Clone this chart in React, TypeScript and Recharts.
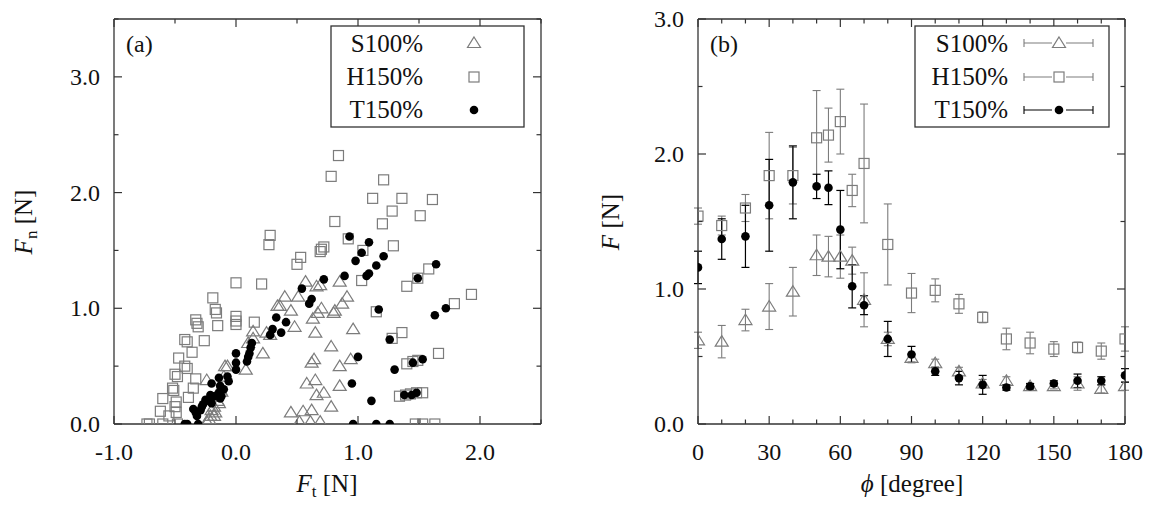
import React from 'react';
import { ScatterChart, Scatter, XAxis, YAxis, ErrorBar } from 'recharts';

const FONT = "'Liberation Serif', 'DejaVu Serif', serif";
const GRAY = '#7c7c7c';
const BLACK = '#000000';
const FRAME = '#333333';

// panel (a): [Ft, Fn] pairs
const s100Pairs: [number, number][] = [
  [0.57, 1.23], [0.66, 1.19], [0.69, 1.2], [0.85, 1.23], [0.4, 1.1], [0.51, 1.1], [0.91, 1.1],
  [0.36, 1.02], [0.45, 0.98], [0.7, 1.0], [0.87, 1.04], [0.81, 0.98], [0.67, 0.96], [0.63, 0.91],
  [0.48, 0.84], [0.28, 0.77], [0.65, 0.79], [0.96, 0.82], [0.22, 0.61], [0.78, 0.67], [0.64, 0.56],
  [0.62, 0.53], [0.94, 0.56], [0.85, 0.5], [0.58, 0.35], [0.65, 0.38], [0.85, 0.33], [0.66, 0.25],
  [0.72, 0.27], [0.45, 0.1], [0.55, 0.11], [0.62, 0.12], [0.78, 0.15], [0.52, 0.02], [0.61, 0.02],
  [0.69, 0.02], [0.8, 0.96], [0.14, 0.8], [0.14, 0.74], [0.1, 0.7], [0.34, 1.02], [0.25, 0.79],
  [0.08, 0.47], [-0.09, 0.5], [-0.07, 0.5], [-0.24, 0.38], [-0.1, 0.41], [-0.16, 0.24], [-0.18, 0.15],
  [-0.21, 0.07], [-0.24, 0.02], [-0.2, 0.12], [-0.18, 0.07], [-0.22, 0.04], [-0.13, 0.3], [-0.15, 0.2],
  [-0.17, 0.1], [-0.14, 0.18], [-0.12, 0.28],
];
const h150Pairs: [number, number][] = [
  [0.84, 2.32], [0.78, 2.14], [1.21, 2.11], [1.12, 1.95], [1.36, 1.95], [1.61, 1.94], [1.28, 1.84],
  [1.51, 1.8], [0.81, 1.75], [1.2, 1.73], [0.92, 1.6], [1.29, 1.54], [1.04, 1.5], [0.69, 1.49],
  [0.7, 1.51], [0.72, 1.53], [0.53, 1.44], [0.5, 1.38], [1.58, 1.34], [1.03, 1.24], [1.49, 1.26],
  [1.4, 1.19], [1.93, 1.12], [1.79, 1.04], [1.15, 0.97], [1.28, 0.74], [1.36, 0.79], [1.66, 0.61],
  [1.4, 0.52], [1.45, 0.54], [1.49, 0.55], [1.34, 0.24], [1.39, 0.25], [1.43, 0.26], [1.48, 0.27],
  [1.53, 0.27], [1.47, 0], [1.53, 0], [1.63, 0], [0.28, 1.63], [0.27, 1.55], [0.0, 1.22], [0.21, 1.21],
  [-0.19, 1.09], [-0.17, 0.99], [-0.16, 0.96], [0.0, 0.93], [0.0, 0.89], [0.0, 0.86], [0.15, 0.88],
  [-0.15, 0.85], [-0.33, 0.9], [-0.32, 0.87], [-0.31, 0.84], [-0.26, 0.72], [-0.42, 0.73], [-0.4, 0.71],
  [-0.36, 0.62], [-0.47, 0.57], [-0.42, 0.5], [-0.4, 0.48], [-0.5, 0.43], [-0.48, 0.41], [-0.33, 0.39],
  [-0.35, 0.31], [-0.52, 0.31], [-0.51, 0.29], [-0.39, 0.23], [-0.6, 0.22], [-0.49, 0.19], [-0.5, 0.15],
  [-0.62, 0.11], [-0.49, 0.1], [-0.55, 0.07], [-0.73, 0], [-0.71, 0], [-0.6, 0], [-0.48, 0],
];
const t150Pairs: [number, number][] = [
  [0.93, 1.62], [1.09, 1.57], [1.03, 1.48], [0.98, 1.41], [1.21, 1.45], [1.15, 1.37], [1.09, 1.3],
  [1.07, 1.28], [0.89, 1.28], [0.72, 1.25], [1.64, 1.38], [1.49, 1.26], [1.17, 0.99], [1.72, 1.0],
  [1.63, 0.94], [0.54, 1.17], [0.62, 1.08], [0.6, 1.04], [1.26, 0.73], [1.0, 0.58], [1.53, 0.56],
  [1.45, 0.53], [1.3, 0.47], [0.95, 0.35], [1.11, 0.2], [1.48, 0.27], [1.44, 0.25], [1.38, 0.25],
  [0.96, 0], [1.15, 0], [1.26, 0], [0.33, 0.92], [0.41, 0.88], [0.3, 0.82], [0.28, 0.77], [0.37, 0.79],
  [0.13, 0.7], [0.12, 0.66], [0.11, 0.61], [0.1, 0.58], [0.09, 0.54], [0.0, 0.61], [0.0, 0.53],
  [0.0, 0.47], [-0.07, 0.41], [-0.06, 0.37], [-0.14, 0.4], [-0.2, 0.35], [-0.1, 0.3], [-0.13, 0.22],
  [-0.18, 0.24], [-0.22, 0.2], [-0.27, 0.17], [-0.29, 0.12], [-0.35, 0.13], [-0.33, 0.1], [-0.32, 0.07],
  [-0.42, 0], [-0.4, 0], [-0.31, 0], [-0.13, 0.33], [-0.14, 0.27], [-0.12, 0.24], [-0.21, 0.25],
  [-0.25, 0.21], [-0.2, 0.18], [-0.28, 0.15],
];

// panel (b): force vs angle with error bars
const angles = [0, 10, 20, 30, 40, 50, 55, 60, 65, 70, 80, 90, 100, 110, 120, 130, 140, 150, 160, 170, 180];
const s100F = [0.62, 0.61, 0.77, 0.87, 0.98, 1.25, 1.24, 1.24, 1.21, 0.92, 0.63, 0.49, 0.45, 0.39, 0.3, 0.32, 0.28, 0.28, 0.3, 0.26, 0.28];
const s100Err = [0.06, 0.12, 0.08, 0.17, 0.18, 0.15, 0.15, 0.16, 0.1, 0.2, 0.05, 0.03, 0.03, 0.03, 0.03, 0.03, 0.02, 0.02, 0.05, 0.03, 0.03];
const h150F = [1.54, 1.47, 1.6, 1.84, 1.84, 2.12, 2.14, 2.24, 1.73, 1.93, 1.33, 0.97, 0.99, 0.89, 0.79, 0.63, 0.6, 0.555, 0.567, 0.54, 0.63];
const h150Err = [0.06, 0.07, 0.1, 0.32, 0.21, 0.35, 0.2, 0.24, 0.12, 0.44, 0.3, 0.145, 0.085, 0.07, 0.04, 0.08, 0.08, 0.055, 0.04, 0.06, 0.09];
const t150F = [1.16, 1.37, 1.39, 1.62, 1.79, 1.76, 1.75, 1.44, 1.02, 0.88, 0.63, 0.515, 0.39, 0.34, 0.29, 0.27, 0.28, 0.3, 0.32, 0.32, 0.36];
const t150Err = [0.12, 0.15, 0.23, 0.34, 0.27, 0.09, 0.125, 0.29, 0.16, 0.07, 0.13, 0.06, 0.03, 0.05, 0.07, 0.02, 0.02, 0.02, 0.05, 0.03, 0.05];

// ticks
const ticksFt = [-1, -0.5, 0, 0.5, 1, 1.5, 2, 2.5];
const majorFt = [-1, 0, 1, 2];
const ticksFn = [0, 0.5, 1, 1.5, 2, 2.5, 3, 3.5];
const majorFn = [0, 1, 2, 3];
const ticksPhi = [0, 10, 20, 30, 40, 50, 60, 70, 80, 90, 100, 110, 120, 130, 140, 150, 160, 170, 180];
const majorPhi = [0, 30, 60, 90, 120, 150, 180];
const ticksF = [0, 0.5, 1, 1.5, 2, 2.5, 3];
const majorF = [0, 1, 2, 3];

const pairs = (p: [number, number][]) => p.map(([x, y]) => ({ x, y }));
const series = (f: number[], e: number[]) => angles.map((a, i) => ({ x: a, y: f[i], err: e[i] }));

const fmt1 = (v: number) => v.toFixed(1);
const fmt0 = (v: number) => String(v);

const txt: React.CSSProperties = { fontFamily: FONT, fill: '#111' };

type Side = 'bottom' | 'top' | 'left' | 'right';
const makeTick = (side: Side, majors: number[], fmt: ((v: number) => string) | null) => (p: any) => {
  const { x, y, payload } = p;
  const v = Number(payload.value);
  const major = majors.some((m) => Math.abs(m - v) < 1e-6);
  const len = major ? 8 : 4.5;
  let x2 = x;
  let y2 = y;
  if (side === 'bottom') y2 = y - len;
  if (side === 'top') y2 = y + len;
  if (side === 'left') x2 = x + len;
  if (side === 'right') x2 = x - len;
  const showLabel = fmt && major;
  return (
    <g>
      <line x1={x} y1={y} x2={x2} y2={y2} stroke={FRAME} strokeWidth={1.2} />
      {showLabel && side === 'bottom' && (
        <text x={x} y={y + 36} textAnchor="middle" fontSize={24} style={txt}>
          {fmt!(v)}
        </text>
      )}
      {showLabel && side === 'left' && (
        <text x={x - 14} y={y + 8} textAnchor="end" fontSize={24} style={txt}>
          {fmt!(v)}
        </text>
      )}
    </g>
  );
};

const Tri = (p: any) => {
  const { cx, cy } = p;
  return <path d={`M${cx},${cy - 6} L${cx + 6.5},${cy + 4.5} L${cx - 6.5},${cy + 4.5} Z`} fill="none" stroke={GRAY} strokeWidth={1.2} />;
};
const Sq = (p: any) => {
  const { cx, cy } = p;
  return <rect x={cx - 5} y={cy - 5} width={10} height={10} fill="none" stroke={GRAY} strokeWidth={1.2} />;
};
const Dot = (p: any) => {
  const { cx, cy } = p;
  return <circle cx={cx} cy={cy} r={4.3} fill={BLACK} />;
};

const axisLine = { stroke: FRAME, strokeWidth: 1.3 };

const axes = (
  xDomain: [number, number], xTicks: number[], xMajor: number[], xFmt: (v: number) => string,
  yDomain: [number, number], yTicks: number[], yMajor: number[], yFmt: (v: number) => string,
) => [
  <XAxis key="xb" xAxisId="b" type="number" dataKey="x" domain={xDomain} ticks={xTicks} interval={0}
    allowDataOverflow tickSize={0} tickMargin={0} height={70} axisLine={axisLine} tickLine={false}
    tick={makeTick('bottom', xMajor, xFmt)} />,
  <XAxis key="xt" xAxisId="t" orientation="top" type="number" dataKey="x" domain={xDomain} ticks={xTicks}
    interval={0} allowDataOverflow tickSize={0} tickMargin={0} height={1} axisLine={axisLine} tickLine={false}
    tick={makeTick('top', xMajor, null)} />,
  <YAxis key="yl" yAxisId="l" type="number" dataKey="y" domain={yDomain} ticks={yTicks} interval={0}
    allowDataOverflow tickSize={0} tickMargin={0} width={100} axisLine={axisLine} tickLine={false}
    tick={makeTick('left', yMajor, yFmt)} />,
  <YAxis key="yr" yAxisId="r" orientation="right" type="number" dataKey="y" domain={yDomain} ticks={yTicks}
    interval={0} allowDataOverflow tickSize={0} tickMargin={0} width={1} axisLine={axisLine} tickLine={false}
    tick={makeTick('right', yMajor, null)} />,
];

export default function App() {
  return (
    <div style={{ position: 'absolute', left: 0, top: 0, width: 1153, height: 507, background: '#fff' }}>
      <div style={{ position: 'absolute', left: 0, top: 0 }}>
        <ScatterChart width={580} height={507} margin={{ top: 18, right: 38, bottom: 13, left: 14 }}>
          {axes([-1, 2.5], ticksFt, majorFt, fmt1, [0, 3.5], ticksFn, majorFn, fmt1)}
          <Scatter name="S100%" xAxisId="b" yAxisId="l" data={pairs(s100Pairs)} shape={Tri} isAnimationActive={false} />
          <Scatter name="H150%" xAxisId="b" yAxisId="l" data={pairs(h150Pairs)} shape={Sq} isAnimationActive={false} />
          <Scatter name="T150%" xAxisId="b" yAxisId="l" data={pairs(t150Pairs)} shape={Dot} isAnimationActive={false} />
        </ScatterChart>
      </div>
      <div style={{ position: 'absolute', left: 580, top: 0 }}>
        <ScatterChart width={573} height={507} margin={{ top: 18, right: 27, bottom: 13, left: 18 }}>
          {axes([0, 180], ticksPhi, majorPhi, fmt0, [0, 3], ticksF, majorF, fmt1)}
          <Scatter name="S100%" xAxisId="b" yAxisId="l" data={series(s100F, s100Err)} shape={Tri} isAnimationActive={false}>
            <ErrorBar dataKey="err" direction="y" width={4} stroke={GRAY} strokeWidth={1.1} />
          </Scatter>
          <Scatter name="H150%" xAxisId="b" yAxisId="l" data={series(h150F, h150Err)} shape={Sq} isAnimationActive={false}>
            <ErrorBar dataKey="err" direction="y" width={4} stroke={GRAY} strokeWidth={1.1} />
          </Scatter>
          <Scatter name="T150%" xAxisId="b" yAxisId="l" data={series(t150F, t150Err)} shape={Dot} isAnimationActive={false}>
            <ErrorBar dataKey="err" direction="y" width={4} stroke={BLACK} strokeWidth={1.2} />
          </Scatter>
        </ScatterChart>
      </div>
      <svg width={1153} height={507} style={{ position: 'absolute', left: 0, top: 0, pointerEvents: 'none' }}>
        {/* panel labels */}
        <text x={126} y={52} fontSize={24} style={txt}>(a)</text>
        <text x={710} y={52} fontSize={24} style={txt}>(b)</text>

        {/* axis titles */}
        <text x={327} y={492} textAnchor="middle" fontSize={25} style={txt}>
          <tspan fontStyle="italic">F</tspan>
          <tspan fontSize={17} dy={5}>t</tspan>
          <tspan dy={-5}> [N]</tspan>
        </text>
        <text transform="translate(32,222) rotate(-90)" textAnchor="middle" fontSize={25} style={txt}>
          <tspan fontStyle="italic">F</tspan>
          <tspan fontSize={17} dy={5}>n</tspan>
          <tspan dy={-5}> [N]</tspan>
        </text>
        <text x={912} y={492} textAnchor="middle" fontSize={25} style={txt}>
          <tspan fontStyle="italic">ϕ</tspan>
          <tspan> [degree]</tspan>
        </text>
        <text transform="translate(619,222) rotate(-90)" textAnchor="middle" fontSize={25} style={txt}>
          <tspan fontStyle="italic">F</tspan>
          <tspan> [N]</tspan>
        </text>

        {/* legend (a) */}
        <rect x={331} y={26} width={193} height={101} fill="#fff" stroke={FRAME} strokeWidth={1.3} />
        <text x={423} y={52} textAnchor="end" fontSize={25} style={txt}>S100%</text>
        <text x={423} y={85} textAnchor="end" fontSize={25} style={txt}>H150%</text>
        <text x={423} y={118} textAnchor="end" fontSize={25} style={txt}>T150%</text>
        <Tri cx={474} cy={43} />
        <Sq cx={474} cy={77} />
        <Dot cx={474} cy={110} />

        {/* legend (b) */}
        <rect x={915} y={26} width={194} height={101} fill="#fff" stroke={FRAME} strokeWidth={1.3} />
        <text x={1008} y={52} textAnchor="end" fontSize={25} style={txt}>S100%</text>
        <text x={1008} y={85} textAnchor="end" fontSize={25} style={txt}>H150%</text>
        <text x={1008} y={118} textAnchor="end" fontSize={25} style={txt}>T150%</text>
        {[
          { cy: 43, c: GRAY, m: <Tri cx={1059} cy={43} /> },
          { cy: 77, c: GRAY, m: <Sq cx={1059} cy={77} /> },
          { cy: 110, c: BLACK, m: <Dot cx={1059} cy={110} /> },
        ].map((r) => (
          <g key={r.cy}>
            <line x1={1024} y1={r.cy} x2={1093} y2={r.cy} stroke={r.c} strokeWidth={1.1} />
            <line x1={1024} y1={r.cy - 4} x2={1024} y2={r.cy + 4} stroke={r.c} strokeWidth={1.1} />
            <line x1={1093} y1={r.cy - 4} x2={1093} y2={r.cy + 4} stroke={r.c} strokeWidth={1.1} />
            <rect x={1052} y={r.cy - 6} width={14} height={12} fill="#fff" stroke="none" />
            {r.m}
          </g>
        ))}
      </svg>
    </div>
  );
}
